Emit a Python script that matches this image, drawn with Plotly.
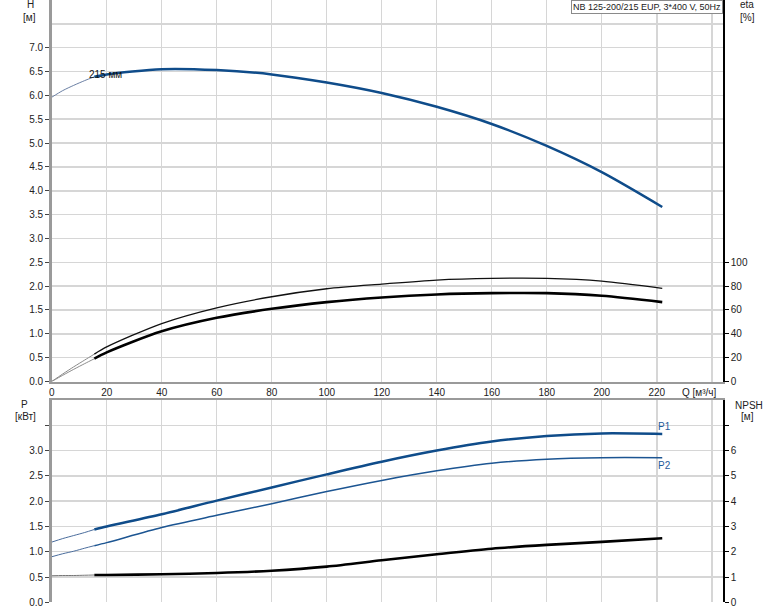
import plotly.graph_objects as go

# ---------------- data ----------------
q_ext = [0, 4, 8, 12, 15.5]
q = [15.5, 20, 40, 60, 80, 100, 120, 140, 160, 180, 200, 222]

h_ext = [5.96, 6.10, 6.21, 6.31, 6.39]
h = [6.39, 6.44, 6.55, 6.53, 6.44, 6.27, 6.05, 5.76, 5.40, 4.94, 4.39, 3.66]

eta1_ext = [0, 6.3, 12.3, 18.0, 23.0]
eta1 = [23.0, 29.0, 48.6, 61.8, 71.1, 77.8, 81.7, 85.1, 86.5, 86.5, 84.2, 78.1]
eta2_ext = [0, 5.2, 10.2, 15.0, 19.1]
eta2 = [19.1, 24.4, 42.1, 53.4, 61.0, 66.6, 70.5, 73.0, 74.1, 74.1, 71.9, 66.6]

p1_ext = [1.19, 1.26, 1.32, 1.38, 1.44]
p1 = [1.44, 1.50, 1.74, 2.01, 2.27, 2.53, 2.78, 3.00, 3.18, 3.29, 3.34, 3.33]
p2_ext = [0.90, 0.96, 1.01, 1.07, 1.12]
p2 = [1.12, 1.18, 1.48, 1.72, 1.95, 2.19, 2.41, 2.60, 2.75, 2.83, 2.86, 2.86]

npsh_ext = [1.05, 1.06, 1.06, 1.07, 1.08]
npsh = [1.08, 1.08, 1.11, 1.16, 1.25, 1.41, 1.66, 1.90, 2.12, 2.27, 2.39, 2.53]

q_ticks = [0, 20, 40, 60, 80, 100, 120, 140, 160, 180, 200, 220, 240]
q_ticktext = ["0", "20", "40", "60", "80", "100", "120", "140", "160", "180", "200", "220", ""]
h_ticks = [0, 0.5, 1, 1.5, 2, 2.5, 3, 3.5, 4, 4.5, 5, 5.5, 6, 6.5, 7]
eta_ticks = [0, 20, 40, 60, 80, 100]
p_ticks = [0, 0.5, 1, 1.5, 2, 2.5, 3, 3.5]
p_ticktext = ["0.0", "0.5", "1.0", "1.5", "2.0", "2.5", "3.0", ""]
npsh_ticks = [0, 1, 2, 3, 4, 5, 6, 7]
npsh_ticktext = ["0", "1", "2", "3", "4", "5", "6", ""]

title_text = "NB 125-200/215 EUP, 3*400 V, 50Hz"
curve_label = "215 мм"

# ---------------- style ----------------
W, H = 774, 611
FONT = "Liberation Sans, Arial, sans-serif"
BLUE = "#0f4c8a"
GRID = "#d6d6d6"
AXGRAY = "#9a9a9a"
TXT = "#222222"

x_dom = [51.7 / W, 723.3 / W]
top_dom = [1 - 381.5 / H, 1.0]
bot_dom = [1 - 602.3 / H, 1 - 400 / H]

fig = go.Figure()

def add(x, y, xa, ya, color, width):
    fig.add_trace(go.Scatter(x=x, y=y, xaxis=xa, yaxis=ya, mode="lines",
                             line=dict(color=color, width=width, shape="spline", smoothing=0.8),
                             showlegend=False, hoverinfo="skip"))

# top plot
add(q_ext, h_ext, "x", "y", "#6a7fa3", 1)
add(q, h, "x", "y", BLUE, 2.5)
add(q_ext, eta1_ext, "x", "y3", "#8a8a8a", 1)
add(q, eta1, "x", "y3", "#111111", 1.3)
add(q_ext, eta2_ext, "x", "y3", "#8a8a8a", 1)
add(q, eta2, "x", "y3", "#000000", 2.6)

# bottom plot
add(q_ext, p1_ext, "x2", "y2", "#4a6c9c", 1)
add(q, p1, "x2", "y2", BLUE, 2.5)
add(q_ext, p2_ext, "x2", "y2", "#4a6c9c", 1)
add(q, p2, "x2", "y2", "#1c5592", 1.5)
add(q_ext, npsh_ext, "x2", "y4", "#777777", 1)
add(q, npsh, "x2", "y4", "#000000", 2.6)

tickfont = dict(family=FONT, size=10, color=TXT)
xrange = [0, 244.2]

fig.update_layout(
    width=W, height=H, autosize=False,
    margin=dict(l=0, r=0, t=0, b=0, pad=0),
    paper_bgcolor="white", plot_bgcolor="white",
    font=dict(family=FONT, size=10, color=TXT),
    xaxis=dict(domain=x_dom, anchor="y", range=xrange, tickvals=q_ticks, ticktext=q_ticktext,
               automargin=False,
               showgrid=True, gridcolor=GRID, gridwidth=1.5, zeroline=False,
               showline=True, linecolor=AXGRAY, linewidth=2.5, ticks="", tickfont=tickfont),
    yaxis=dict(domain=top_dom, anchor="x", range=[0, 8], tickvals=h_ticks,
               ticktext=[f"{v:.1f}" for v in h_ticks], automargin=False,
               showgrid=True, gridcolor=GRID, gridwidth=1.5, zeroline=False,
               minor=dict(tickvals=[7.5, 8], showgrid=True, gridcolor=GRID, gridwidth=1.5, ticks=""),
               showline=True, linecolor=AXGRAY, linewidth=2.5,
               ticks="outside", ticklen=4, tickcolor="#444", tickwidth=1, tickfont=tickfont),
    yaxis3=dict(anchor="x", overlaying="y", side="right", range=[0, 320], tickvals=eta_ticks,
                automargin=False,
                showgrid=False, zeroline=False, showline=True, linecolor="#000", linewidth=1.5,
                ticks="outside", ticklen=4, tickcolor="#000", tickwidth=1, tickfont=tickfont),
    xaxis2=dict(domain=x_dom, anchor="y2", range=xrange, tickvals=q_ticks, showticklabels=False,
                automargin=False,
                side="top", showgrid=True, gridcolor=GRID, gridwidth=1.5, zeroline=False,
                showline=True, linecolor=AXGRAY, linewidth=2.5, ticks=""),
    yaxis2=dict(domain=bot_dom, anchor="x2", range=[0, 4], tickvals=p_ticks, ticktext=p_ticktext,
                automargin=False,
                showgrid=True, gridcolor=GRID, gridwidth=1.5, zeroline=False,
                showline=True, linecolor=AXGRAY, linewidth=2.5,
                ticks="outside", ticklen=4, tickcolor="#444", tickwidth=1, tickfont=tickfont),
    yaxis4=dict(anchor="x2", overlaying="y2", side="right", range=[0, 8], tickvals=npsh_ticks,
                ticktext=npsh_ticktext, showgrid=False, zeroline=False, automargin=False,
                showline=True, linecolor="#000", linewidth=1.5,
                ticks="outside", ticklen=4, tickcolor="#000", tickwidth=1, tickfont=tickfont),
)

def px_ann(text, x, y, xanchor="center", size=10, color=TXT, **kw):
    fig.add_annotation(text=text, xref="paper", yref="paper", x=x / W, y=1 - y / H,
                       xanchor=xanchor, yanchor="middle", showarrow=False,
                       font=dict(family=FONT, size=size, color=color), **kw)

px_ann("H", 30, 5)
px_ann("[м]", 29, 17)
px_ann("eta", 747, 5)
px_ann("[%]", 747, 17)
px_ann("P", 25, 404.5)
px_ann("[кВт]", 25.5, 417)
px_ann("NPSH", 748.5, 405)
px_ann("[м]", 747.5, 417)
px_ann("Q [м³/ч]", 719, 392, xanchor="right")

# title box
fig.add_annotation(text=title_text, xref="paper", yref="paper", x=723 / W, y=1.0,
                   xanchor="right", yanchor="top", showarrow=False,
                   font=dict(family=FONT, size=9, color=TXT),
                   bgcolor="white", bordercolor="#8a8a8a", borderwidth=1, borderpad=1)

# curve labels
fig.add_annotation(text=curve_label, x=12.7, y=6.43, xref="x", yref="y", xanchor="left",
                   yanchor="middle", showarrow=False, font=dict(family=FONT, size=10, color="#111"))
fig.add_annotation(text="P1", x=219.7, y=3.48, xref="x2", yref="y2", xanchor="left",
                   yanchor="middle", showarrow=False, font=dict(family=FONT, size=10, color="#1f5b9a"))
fig.add_annotation(text="P2", x=219.7, y=2.70, xref="x2", yref="y2", xanchor="left",
                   yanchor="middle", showarrow=False, font=dict(family=FONT, size=10, color="#1f5b9a"))

fig.write_html("out.html", config={"displayModeBar": False, "staticPlot": True},
               post_script="document.body.style.margin='0px';document.body.style.overflow='hidden';")
